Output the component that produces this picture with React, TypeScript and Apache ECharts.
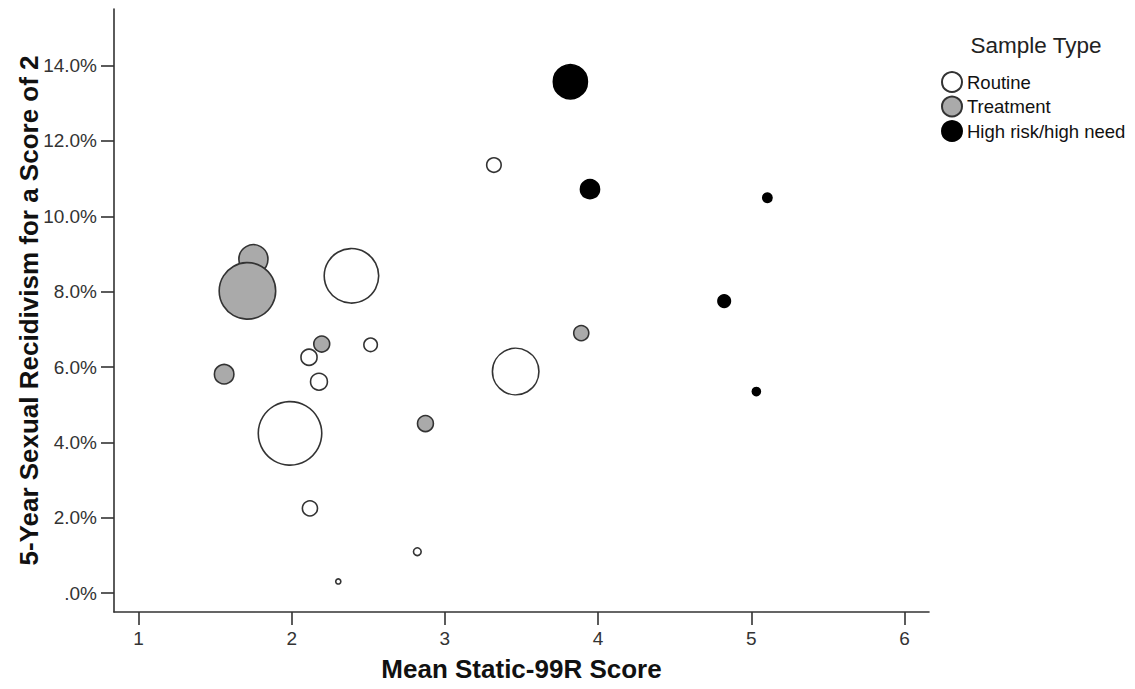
import React, { useEffect, useRef } from "react";
import * as echarts from "echarts";

// Mean Static-99R score, 5-year recidivism (%), sample size
const routineX = [3.32, 2.39, 2.515, 2.113, 2.178, 3.462, 1.989, 2.119, 2.82, 2.304];
const routineY = [11.36, 8.42, 6.59, 6.26, 5.61, 5.88, 4.24, 2.25, 1.1, 0.31];
const routineN = [640, 7840, 563, 774, 846, 5760, 10563, 689, 212, 109];

const treatmentX = [1.75, 1.711, 2.196, 1.559, 2.873, 3.89];
const treatmentY = [8.86, 8.02, 6.61, 5.81, 4.5, 6.9];
const treatmentN = [2341, 8410, 757, 1103, 757, 689];

const highX = [3.819, 3.947, 5.105, 4.823, 5.033];
const highY = [13.57, 10.72, 10.49, 7.75, 5.35];
const highN = [3168, 1061, 292, 490, 230];

const xTicks = [1, 2, 3, 4, 5, 6];
const yTicks = [0, 2, 4, 6, 8, 10, 12, 14];

const seriesNames = ["Routine", "Treatment", "High risk/high need"];

const FONT = "'Liberation Sans', Arial, sans-serif";

function zip(xs: number[], ys: number[], ns: number[]) {
  return xs.map((x, i) => [x, ys[i], ns[i]]);
}

const isIn = (list: number[], v: number) => list.some((t) => Math.abs(t - v) < 1e-6);

export default function App() {
  const ref = useRef<HTMLDivElement>(null);
  useEffect(() => {
    document.body.style.margin = "0";
    if (!ref.current) return;
    const chart = echarts.init(ref.current, null, { renderer: "svg" });
    const size = (v: number[]) => 2 * Math.sqrt(v[2] / 10) - 1.5;
    const mk = (name: string, data: number[][], fill: string, border: string) => ({
      name,
      type: "scatter",
      data,
      symbol: "circle",
      symbolSize: size,
      itemStyle: { color: fill, borderColor: border, borderWidth: 1.6, opacity: 1 },
      emphasis: { disabled: true },
    });
    chart.setOption({
      animation: false,
      backgroundColor: "#fff",
      textStyle: { fontFamily: FONT },
      title: {
        text: "Sample Type",
        left: 1036,
        textAlign: "center",
        top: 34,
        padding: 0,
        textStyle: { fontFamily: FONT, fontSize: 22.5, fontWeight: "normal", color: "#222" },
      },
      legend: {
        orient: "vertical",
        left: 941,
        top: 71,
        padding: 0,
        itemWidth: 20,
        itemHeight: 20,
        itemGap: 2.5,
        icon: "circle",
        data: seriesNames,
        textStyle: { fontFamily: FONT, fontSize: 18.5, color: "#111" },
      },
      grid: { left: 114, right: 206, top: 9, bottom: 77, containLabel: false },
      xAxis: {
        type: "value",
        min: 0.84,
        max: 6.16,
        interval: 0.04,
        name: "Mean Static-99R Score",
        nameLocation: "middle",
        nameGap: 44,
        nameMoveOverlap: false,
        nameTextStyle: { fontFamily: FONT, fontSize: 26, fontWeight: "bold", color: "#111" },
        splitLine: { show: false },
        axisLine: { onZero: false, lineStyle: { color: "#333", width: 1.6 } },
        axisTick: { customValues: xTicks, length: 13, lineStyle: { color: "#333", width: 1.6 } },
        axisLabel: {
          margin: 17,
          fontFamily: FONT,
          fontSize: 19,
          color: "#333",
          formatter: (v: number) => (isIn(xTicks, v) ? String(Math.round(v)) : ""),
        },
      },
      yAxis: {
        type: "value",
        min: -0.5,
        max: 15.5,
        interval: 0.5,
        name: "5-Year Sexual Recidivism for a Score of 2",
        nameLocation: "middle",
        nameGap: 72,
        nameMoveOverlap: false,
        nameTextStyle: { fontFamily: FONT, fontSize: 26, fontWeight: "bold", color: "#111" },
        splitLine: { show: false },
        axisLine: { onZero: false, lineStyle: { color: "#333", width: 1.6 } },
        axisTick: { customValues: yTicks, length: 13, lineStyle: { color: "#333", width: 1.6 } },
        axisLabel: {
          margin: 17,
          fontFamily: FONT,
          fontSize: 19,
          color: "#333",
          formatter: (v: number) => {
            if (!isIn(yTicks, v)) return "";
            const r = Math.round(v);
            return r === 0 ? ".0%" : r.toFixed(1) + "%";
          },
        },
      },
      series: [
        mk(seriesNames[0], zip(routineX, routineY, routineN), "#ffffff", "#333"),
        mk(seriesNames[1], zip(treatmentX, treatmentY, treatmentN), "#aaaaaa", "#333"),
        mk(seriesNames[2], zip(highX, highY, highN), "#000000", "#000"),
      ],
    });
    return () => chart.dispose();
  }, []);
  return <div ref={ref} style={{ width: 1135, height: 689 }} />;
}
